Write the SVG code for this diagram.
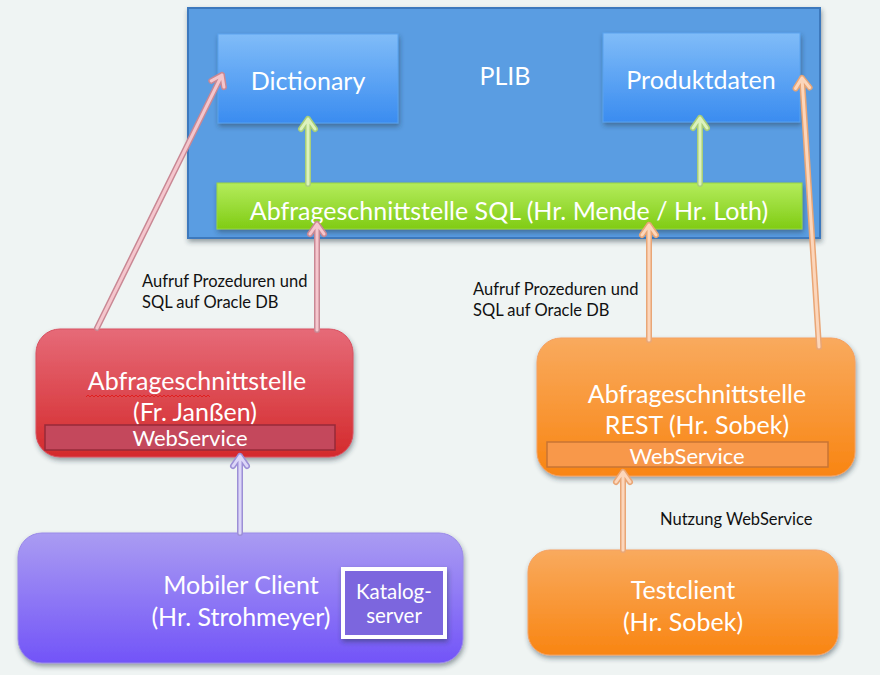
<svg xmlns="http://www.w3.org/2000/svg" width="880" height="675" viewBox="0 0 880 675">
<defs>
<style>
.t{font-family:Lato,"Open Sans","DejaVu Sans",sans-serif;fill:#ffffff;text-anchor:middle}
.big{font-size:25px}
.mid{font-size:22px}
.ks{font-size:20.5px}
.lbl{font-family:Lato,"Open Sans","DejaVu Sans",sans-serif;font-size:16.5px;fill:#111111}
.co{fill:none;stroke-linecap:round;stroke-linejoin:round}
.pk1{stroke:#c98894;stroke-width:6}
.pk2{stroke:#f5c6cd;stroke-width:3}
.gr1{stroke:#a9cf78;stroke-width:6}
.gr2{stroke:#dcf2bd;stroke-width:3}
.or1{stroke:#e9a676;stroke-width:6}
.or2{stroke:#fcd6bb;stroke-width:3}
.pu1{stroke:#9c8fd6;stroke-width:6}
.pu2{stroke:#dcd6f8;stroke-width:3}
</style>
<linearGradient id="gBlue" x1="0" y1="0" x2="0" y2="1"><stop offset="0" stop-color="#80bcf8"/><stop offset="1" stop-color="#3a8cf0"/></linearGradient>
<linearGradient id="gGreen" x1="0" y1="0" x2="0" y2="1"><stop offset="0" stop-color="#b4ec5c"/><stop offset="1" stop-color="#80cc14"/></linearGradient>
<linearGradient id="gRed" x1="0" y1="0" x2="0" y2="1"><stop offset="0" stop-color="#e66a78"/><stop offset="1" stop-color="#d42a2c"/></linearGradient>
<linearGradient id="gOrange" x1="0" y1="0" x2="0" y2="1"><stop offset="0" stop-color="#f9aa5e"/><stop offset="1" stop-color="#f98512"/></linearGradient>
<linearGradient id="gPurple" x1="0" y1="0" x2="0" y2="1"><stop offset="0" stop-color="#aa9cf2"/><stop offset="1" stop-color="#7254f8"/></linearGradient>
<filter id="sh" x="-10%" y="-10%" width="120%" height="130%"><feDropShadow dx="1" dy="3" stdDeviation="2.5" flood-color="#203040" flood-opacity="0.45"/></filter>
</defs>
<rect x="0" y="0" width="880" height="675" fill="#eff4f3"/>

<g id="plib">
<rect x="188" y="8" width="632" height="230" fill="#5a9de2" stroke="#3d79bd" stroke-width="2" filter="url(#sh)"/>
<text class="t big" x="505" y="85">PLIB</text>
</g>
<g id="dictionary">
<rect x="218" y="34" width="180" height="89" fill="url(#gBlue)" stroke="#5aa2ee" stroke-width="1" filter="url(#sh)"/>
<text class="t big" x="308" y="90">Dictionary</text>
</g>
<g id="produktdaten">
<rect x="603" y="33" width="197" height="89" fill="url(#gBlue)" stroke="#5aa2ee" stroke-width="1" filter="url(#sh)"/>
<text class="t big" x="701" y="89">Produktdaten</text>
</g>
<g id="sql">
<rect x="217" y="183" width="585" height="46" fill="url(#gGreen)" stroke="#9ad640" stroke-width="1" filter="url(#sh)"/>
<text class="t big" x="509" y="220">Abfrageschnittstelle SQL (Hr. Mende / Hr. Loth)</text>
</g>
<g id="janssen">
<rect x="36" y="329" width="317" height="128" rx="24" fill="url(#gRed)" stroke="#d85060" stroke-width="1" filter="url(#sh)"/>
<text class="t big" x="197" y="390">Abfrageschnittstelle</text>
<path d="M86 397 l2 -2 l2 2 l2 -2 l2 2 l2 -2 l2 2 l2 -2 l2 2 l2 -2 l2 2 l2 -2 l2 2 l2 -2 l2 2 l2 -2 l2 2 l2 -2 l2 2 l2 -2 l2 2 l2 -2 l2 2 l2 -2 l2 2 l2 -2 l2 2 l2 -2 l2 2 l2 -2 l2 2 l2 -2 l2 2 l2 -2 l2 2 l2 -2 l2 2 l2 -2 l2 2 l2 -2 l2 2 l2 -2 l2 2 l2 -2 l2 2 l2 -2 l2 2 l2 -2 l2 2 l2 -2 l2 2 l2 -2 l2 2 l2 -2 l2 2 l2 -2 l2 2 l2 -2 l2 2 l2 -2 l2 2 l2 -2 l2 2" fill="none" stroke="#e02020" stroke-width="1"/>
<text class="t big" x="195" y="421">(Fr. Janßen)</text>
<rect x="45" y="425" width="290" height="25" fill="#c4485c" stroke="#962a38" stroke-width="1.5"/>
<text class="t mid" x="190" y="446">WebService</text>
</g>
<g id="rest">
<rect x="537" y="338" width="318" height="138" rx="24" fill="url(#gOrange)" stroke="#f5a060" stroke-width="1" filter="url(#sh)"/>
<text class="t big" x="697" y="403">Abfrageschnittstelle</text>
<text class="t big" x="697" y="434">REST (Hr. Sobek)</text>
<rect x="547" y="442" width="281" height="25" fill="#f8984a" stroke="#c87434" stroke-width="1.5"/>
<text class="t mid" x="687" y="464">WebService</text>
</g>
<g id="mobil">
<rect x="18" y="533" width="445" height="130" rx="24" fill="url(#gPurple)" stroke="#9a8ae8" stroke-width="1" filter="url(#sh)"/>
<text class="t big" x="241" y="594">Mobiler Client</text>
<text class="t big" x="241" y="626">(Hr. Strohmeyer)</text>
</g>
<g id="katalog">
<rect x="343" y="569" width="102" height="68" fill="#7b66de" stroke="#ffffff" stroke-width="4" filter="url(#sh)"/>
<text class="t ks" x="394" y="599">Katalog-</text>
<text class="t ks" x="394" y="623">server</text>
</g>
<g id="testclient">
<rect x="528" y="550" width="310" height="105" rx="22" fill="url(#gOrange)" stroke="#f5a060" stroke-width="1" filter="url(#sh)"/>
<text class="t big" x="683" y="599">Testclient</text>
<text class="t big" x="683" y="631">(Hr. Sobek)</text>
</g>

<g id="connectors">
<path class="co gr1" d="M308 184 L308 119 M301 129 L308 119 L315 129"/>
<path class="co gr2" d="M308 184 L308 119 M301 129 L308 119 L315 129"/>
<path class="co gr1" d="M700 184 L700 118 M693 128 L700 118 L707 128"/>
<path class="co gr2" d="M700 184 L700 118 M693 128 L700 118 L707 128"/>
<path class="co pk1" d="M97 328 L222 75 M211.3 80.9 L222 75 L223.9 87.1"/>
<path class="co pk2" d="M97 328 L222 75 M211.3 80.9 L222 75 L223.9 87.1"/>
<path class="co pk1" d="M317 330 L317 224 M310 234 L317 224 L324 234"/>
<path class="co pk2" d="M317 330 L317 224 M310 234 L317 224 L324 234"/>
<path class="co or1" d="M649 340 L649 225 M642 235 L649 225 L656 235"/>
<path class="co or2" d="M649 340 L649 225 M642 235 L649 225 L656 235"/>
<path class="co or1" d="M819 347 L802 78 M795.6 88.4 L802 78 L809.6 87.5"/>
<path class="co or2" d="M819 347 L802 78 M795.6 88.4 L802 78 L809.6 87.5"/>
<path class="co pu1" d="M240 533 L240 456 M233 466 L240 456 L247 466"/>
<path class="co pu2" d="M240 533 L240 456 M233 466 L240 456 L247 466"/>
<path class="co or1" d="M623 550 L623 472 M616 482 L623 472 L630 482"/>
<path class="co or2" d="M623 550 L623 472 M616 482 L623 472 L630 482"/>
</g>

<g id="labels">
<text class="lbl" x="142" y="287">Aufruf Prozeduren und</text>
<text class="lbl" x="142" y="308">SQL auf Oracle DB</text>
<text class="lbl" x="473" y="295">Aufruf Prozeduren und</text>
<text class="lbl" x="473" y="316">SQL auf Oracle DB</text>
<text class="lbl" x="660" y="525">Nutzung WebService</text>
</g>
</svg>
